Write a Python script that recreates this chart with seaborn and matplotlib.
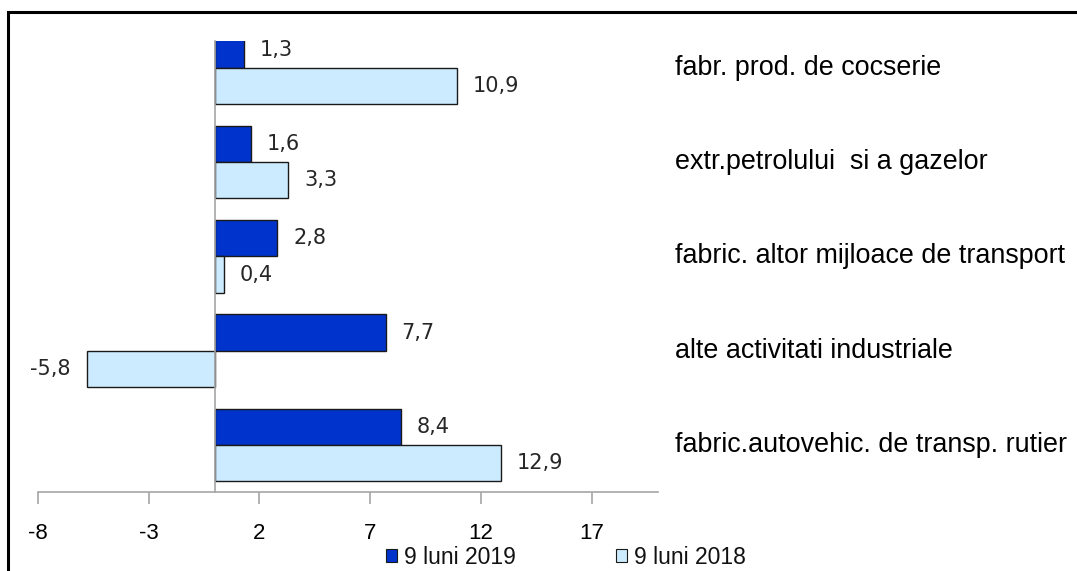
import matplotlib
matplotlib.use("Agg")
import matplotlib.pyplot as plt
import seaborn as sns
import pandas as pd
from matplotlib.patches import Patch, Rectangle
import matplotlib.transforms as mtransforms

categories = [
    "fabr. prod. de cocserie",
    "extr.petrolului  si a gazelor",
    "fabric. altor mijloace de transport",
    "alte activitati industriale",
    "fabric.autovehic. de transp. rutier",
]
series_names = ["9 luni 2019", "9 luni 2018"]
values_2019 = [1.3, 1.6, 2.8, 7.7, 8.4]
values_2018 = [10.9, 3.3, 0.4, -5.8, 12.9]
x_ticks = [-8, -3, 2, 7, 12, 17]

dark = "#0033CC"
light = "#CCEBFF"

sns.set_theme(style="white")
plt.rcParams["font.family"] = ["Liberation Sans", "DejaVu Sans"]

df = pd.DataFrame({
    "cat": categories * 2,
    "series": [series_names[0]] * 5 + [series_names[1]] * 5,
    "value": values_2019 + values_2018,
})

W, H = 1077, 571
fig = plt.figure(figsize=(W / 100, H / 100), dpi=100)
ax = fig.add_axes([38 / W, (H - 492) / H, 620 / W, 451 / H])

sns.barplot(data=df, y="cat", x="value", hue="series", orient="h",
            order=categories, hue_order=series_names,
            palette=[dark, light], saturation=1, width=0.77,
            edgecolor="#1a1a1a", linewidth=1.0, legend=False, ax=ax)

ax.set_xlim(-8, 20)
ax.set_ylim(4.5, -0.286)
ax.set_xticks(x_ticks)
ax.set_xticklabels([str(t) for t in x_ticks])
ax.set_yticks([])
ax.set_xlabel("")
ax.set_ylabel("")

for s in ["top", "right"]:
    ax.spines[s].set_visible(False)
ax.spines["left"].set_position(("data", 0))
ax.spines["left"].set_color("#a6a6a6")
ax.spines["left"].set_linewidth(1.2)
ax.spines["bottom"].set_color("#a6a6a6")
ax.spines["bottom"].set_linewidth(1.2)
ax.tick_params(axis="x", direction="out", length=8.6, width=1.2, color="#a6a6a6",
               pad=14, labelsize=16, labelcolor="#000000", bottom=True)

all_vals = [values_2019, values_2018]
for cont, vals in zip(ax.containers, all_vals):
    labels = [f"{v:.1f}".replace(".", ",") for v in vals]
    ax.bar_label(cont, labels=labels, padding=11.5, fontsize=15,
                 color="#262626", family="DejaVu Sans")

trans = mtransforms.blended_transform_factory(ax.transAxes, ax.transData)
for i, c in enumerate(categories):
    ax.text((675 - 38) / 620, i, c, transform=trans, ha="left", va="center",
            fontsize=19.4, color="#000000", clip_on=False)

handles = [Patch(facecolor=dark, edgecolor="#1a1a1a", linewidth=0.8),
           Patch(facecolor=light, edgecolor="#1a1a1a", linewidth=0.8)]
fig.legend(handles, series_names, loc="center left",
           bbox_to_anchor=(386 / W, 1 - 557 / H), ncol=2, frameon=False,
           fontsize=16.5, handlelength=0.5, handleheight=0.5,
           handletextpad=0.3, columnspacing=4.35, borderpad=0,
           borderaxespad=0, labelcolor="#111111")

fig.add_artist(Rectangle((8 / W, -0.5), 2.0, (1 - 12 / H) + 0.5,
                         transform=fig.transFigure, fill=False,
                         edgecolor="black", linewidth=2.2))

fig.savefig("out.png", dpi=100)
